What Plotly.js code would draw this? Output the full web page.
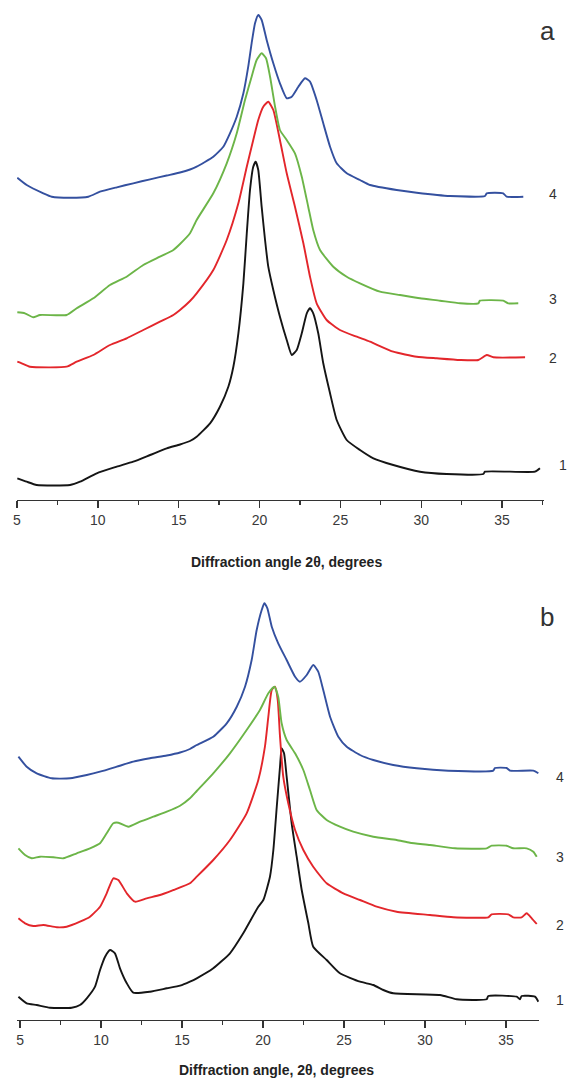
<!DOCTYPE html>
<html>
<head>
<meta charset="utf-8">
<script src="https://cdn.plot.ly/plotly-3.0.1.min.js"></script>
<style>
  html, body { margin: 0; padding: 0; background: #fff; }
  #chart { width: 568px; height: 1082px; }
</style>
</head>
<body>
<div id="chart"></div>
<script>
// ---------- Panel a : diffraction angle 2θ (deg) and intensity (a.u.) ----------
const a1x = [5.02,5.6,6.22,8.28,8.9,9.93,11.17,12.19,13.23,14.26,15.08,15.7,16.11,16.94,17.55,18.07,18.38,18.69,19.0,19.21,19.41,19.61,19.76,19.92,20.13,20.34,20.54,20.85,21.26,21.68,21.99,22.3,22.61,22.92,23.12,23.32,23.63,23.94,24.36,24.77,25.39,26.21,27.04,28.27,29.92,31.57,33.84,33.94,37.03,37.34];
const a1y = [21.7,18.3,15,15,18.3,26.7,33.3,38.3,45,51.7,55.5,59,63.3,76.7,93.3,113.3,133.3,166.7,216.7,266.7,310,333.3,338.3,330,293.3,260,233.3,210,183.3,160,145,150,166.7,186.7,191.7,186.7,166.7,136.7,106.7,80,60,50,41.7,35,28.3,26,26,28.3,28.3,31.7];

const a2x = [5.02,5.29,5.8,8.07,8.69,9.72,10.75,11.78,12.81,13.84,14.67,15.08,15.7,16.11,17.14,17.97,18.69,19.21,19.61,19.92,20.23,20.54,20.85,21.26,21.68,22.19,22.71,23.12,23.53,24.15,24.97,26.01,26.83,28.27,29.72,30.96,32.4,33.53,34.05,34.46,36.42];
const a2y = [138.3,136.7,133.3,133.3,138.3,145,155,161.7,170,178.3,185,190,199,206.7,230,260,296.7,333.3,360,380,393.3,398.3,390,360,326.7,293.3,256.7,223.3,196.7,180,170,163.3,158.3,148.3,143.3,141.7,140,140,145,142.7,142.7];

const a3x = [5.02,5.49,6.01,6.42,8.07,8.69,9.72,10.75,11.78,12.81,13.84,14.67,15.08,15.7,16.11,17.14,17.97,18.59,19.1,19.51,19.82,20.13,20.4,20.65,20.96,21.26,21.68,22.19,22.61,23.01,23.32,23.74,24.56,25.39,26.21,27.45,28.69,29.92,31.16,32.4,33.53,33.63,35.07,35.38,36.0];
const a3y = [187.7,186.7,182.7,185,185,191.7,201.7,215,223.3,235,243.3,250,256,266.7,280,306.7,336.7,366.7,400,423.3,440,446.7,441.7,423.3,393.3,370,360,346.7,323.3,293.3,270,250,233.3,223.3,216.7,208.3,205,201.7,199.3,196.7,196.7,199.3,199.3,196.7,196.7];

const a4x = [5.02,5.6,6.63,7.15,8.28,9.41,10.13,11.17,12.19,13.23,14.26,15.08,15.7,16.11,17.14,17.76,18.17,18.59,19.0,19.3,19.51,19.72,19.92,20.13,20.44,20.85,21.26,21.68,21.99,22.4,22.81,23.12,23.53,23.94,24.36,24.77,25.39,26.21,26.83,28.48,29.72,31.78,33.94,34.05,35.07,35.28,36.31];
const a4y = [322.3,315,306.7,303.3,302.3,303.3,308.3,312.7,316.7,320.7,324.5,327.5,330.5,333.3,343.3,353.3,366.7,383.3,406.7,433.3,456.7,476.7,485,480,460,436.7,416.7,401.7,403.3,413.3,421.7,418.3,400,376.7,353.3,336.7,326.7,320,315,310,307.3,304,304,306.7,306.7,303.3,303.3];

// ---------- Panel b ----------
const b1x = [4.9,5.41,6.03,6.85,8.19,8.7,9.12,9.63,9.94,10.25,10.56,10.86,11.17,11.59,11.99,13.02,14.06,14.88,15.49,15.91,16.93,17.96,18.78,19.71,20.02,20.43,20.64,20.85,21.05,21.15,21.3,21.46,21.77,22.08,22.39,22.8,23.1,23.93,24.75,25.99,26.81,27.43,28.04,30.93,31.96,33.81,33.91,35.66,35.86,35.97,36.79,37.0];
const b1y = [23.3,16.7,15,12.3,12.3,15,21.7,33.3,50,63.3,70,66.7,51.7,36.7,27.3,28.3,31.7,34.3,38.3,41.7,51.7,66.7,86.7,113.3,120,143.3,170,213.3,253.3,271.7,266.7,243.3,196.7,163.3,130,96.7,73.3,60,46.7,38.3,35,30,26.7,25,20.7,20.7,24,23.3,20.7,24,23.3,18.3];

const b2x = [4.9,5.31,5.82,6.44,7.27,7.88,8.7,9.32,9.94,10.35,10.76,11.07,11.59,12.1,12.82,13.64,14.46,15.49,15.91,16.93,17.96,18.99,19.71,20.12,20.33,20.54,20.74,20.91,21.05,21.25,21.56,21.98,22.49,23.1,23.93,24.96,25.99,27.02,28.25,30.31,31.75,33.91,34.12,35.14,35.45,35.97,36.28,36.59,36.9];
const b2y = [101.7,96.7,94,95,92.7,93.3,98.3,103.3,113.3,126.7,141.7,140,126.7,118.3,121.7,125,130,136.7,143.3,160,180,206.7,240,273.3,303.3,330,333.3,320,283.3,243.3,216.7,190,170,153.3,136.7,126.7,120,113.3,108.3,105,102.7,102.7,105.7,105.7,102.7,102.7,106.7,101.7,96];

const b3x = [4.9,5.31,5.72,6.23,7.06,7.67,8.5,9.32,9.94,10.35,10.76,11.07,11.69,12.41,13.23,14.06,14.88,15.49,15.91,16.93,17.96,18.99,19.81,20.33,20.7,20.94,21.15,21.46,21.98,22.49,22.9,23.31,23.93,24.75,25.57,26.81,28.25,29.07,30.31,31.85,33.81,34.12,35.04,35.45,36.28,36.69,36.9];
const b3y = [171.7,165,161.7,163.3,162.7,161.7,166.7,171.7,176.7,186.7,196.7,197.3,193.3,198.3,203.3,208.3,214.3,221.7,229,246.7,266.7,290,310,326.7,333.3,323.3,296.7,280,266.7,250,230,210,200,193.3,188.3,183.3,180,177.3,175,171.7,171.7,174.3,174.3,171.7,171.7,168.3,163.3];

const b4x = [4.9,5.41,6.03,6.96,8.09,9.12,9.94,10.97,11.99,13.02,14.06,14.88,15.49,15.91,16.93,17.76,18.38,18.89,19.3,19.61,19.92,20.08,20.27,20.54,20.94,21.46,21.98,22.28,22.7,23.1,23.41,23.72,24.14,24.65,25.17,25.99,26.81,28.04,29.49,31.44,34.22,34.32,35.04,35.25,36.69,37.0];
const b4y = [263.3,253.3,246.7,241.7,241.7,245,248.3,253.3,258.3,261.7,264.5,267.5,271,275,283.3,296.7,313.3,333.3,360,390,410,416.7,411.7,393.3,376.7,360,343.3,338.3,345,355,348.3,330,303.3,283.3,273.3,265,260,255,251.7,249.3,249.3,252,252,249.3,249.3,246.7];

const curveLabels = ["1", "2", "3", "4"];
const panelLabels = ["a", "b"];
const xTitles = ["Diffraction angle 2\u03b8, degrees", "Diffraction angle, 2\u03b8, degrees"];

const colors = ["#151515", "#e3262b", "#6cb548", "#34509f"];
const W = 568, H = 1082;
const px = v => v / W;
const py = v => 1 - v / H;

function tr(x, y, i, ax) {
  return { x: x, y: y, type: "scatter", mode: "lines", xaxis: ax[0], yaxis: ax[1],
           line: { color: colors[i], width: 1.9, shape: "spline", smoothing: 0.5 },
           hoverinfo: "skip", showlegend: false };
}
const data = [
  tr(a1x, a1y, 0, ["x", "y"]), tr(a2x, a2y, 1, ["x", "y"]),
  tr(a3x, a3y, 2, ["x", "y"]), tr(a4x, a4y, 3, ["x", "y"]),
  tr(b1x, b1y, 0, ["x2", "y2"]), tr(b2x, b2y, 1, ["x2", "y2"]),
  tr(b3x, b3y, 2, ["x2", "y2"]), tr(b4x, b4y, 3, ["x2", "y2"])
];

function xax(range, domain, anchor) {
  return {
    range: range, domain: domain, anchor: anchor,
    tickmode: "linear", tick0: 5, dtick: 5,
    ticks: "outside", ticklen: 7, tickwidth: 1.3, tickcolor: "#333",
    showline: true, linecolor: "#333", linewidth: 1.3,
    showgrid: false, zeroline: false, fixedrange: true,
    tickfont: { family: "Liberation Sans, Arial, sans-serif", size: 14, color: "#3a3a3a" },
    minor: { tick0: 5, dtick: 2.5, ticks: "outside", ticklen: 4, tickwidth: 1.3, tickcolor: "#333", showgrid: false }
  };
}
function yax(range, domain, anchor) {
  return { range: range, domain: domain, anchor: anchor, visible: false, fixedrange: true };
}

const ann = [];
function addText(text, x, y, size, bold, xanchor) {
  ann.push({ text: bold ? "<b>" + text + "</b>" : text, x: px(x), y: py(y), xref: "paper", yref: "paper",
             showarrow: false, xanchor: xanchor || "center", yanchor: "middle",
             font: { family: "Liberation Sans, Arial, sans-serif", size: size, color: bold ? "#222" : "#333" } });
}
// panel a labels
addText(curveLabels[3], 553, 194, 14);
addText(curveLabels[2], 553, 299, 14);
addText(curveLabels[1], 553, 358, 14);
addText(curveLabels[0], 563, 465, 14);
// panel b labels
addText(curveLabels[3], 560, 777, 14);
addText(curveLabels[2], 560, 857, 14);
addText(curveLabels[1], 560, 925, 14);
addText(curveLabels[0], 560, 1000, 14);
addText(panelLabels[0], 547, 31, 26);
addText(panelLabels[1], 547, 617, 26);
addText(xTitles[0], 286, 562, 14, true);
addText(xTitles[1], 276, 1070, 14, true);

const layout = {
  width: W, height: H,
  margin: { l: 0, r: 0, t: 0, b: 0 },
  paper_bgcolor: "#ffffff", plot_bgcolor: "#ffffff",
  showlegend: false,
  xaxis: xax([5, 37.56], [px(17), px(543.5)], "y"),
  yaxis: yax([0, 500], [py(500), 1], "x"),
  xaxis2: xax([4.8, 37.04], [px(16.8), px(539)], "y2"),
  yaxis2: yax([0, 430], [py(1020), py(590)], "x2"),
  annotations: ann
};

Plotly.newPlot("chart", data, layout, { staticPlot: true, displayModeBar: false });
</script>
</body>
</html>
